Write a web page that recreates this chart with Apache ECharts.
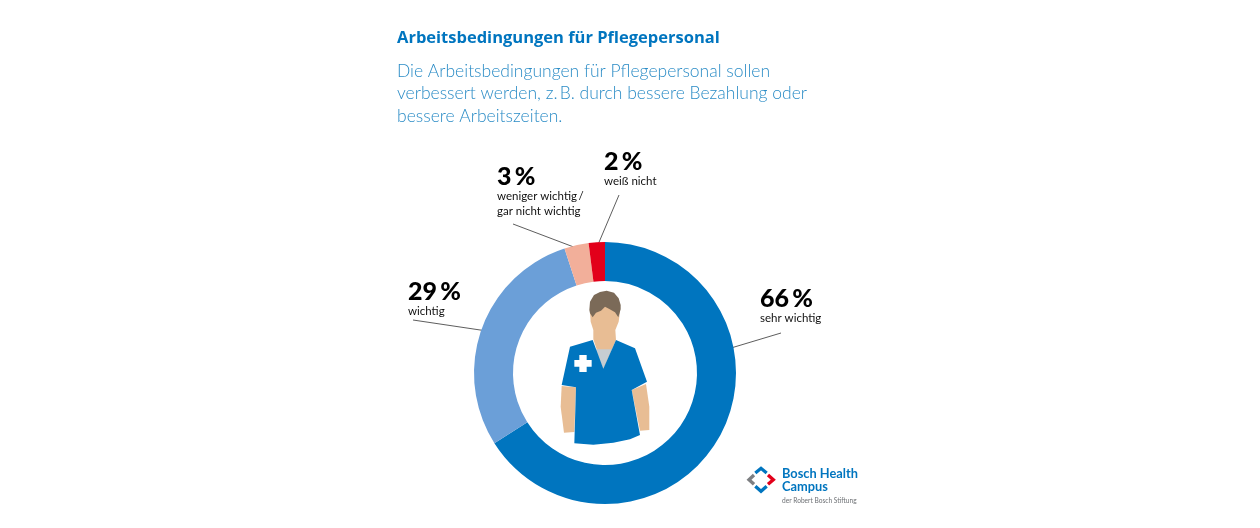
<!DOCTYPE html>
<html lang="de">
<head>
<meta charset="utf-8">
<title>Arbeitsbedingungen für Pflegepersonal</title>
<style>
  html, body { margin: 0; padding: 0; background: #fff; }
  #chart { width: 1260px; height: 528px; }
</style>
<script src="https://cdn.jsdelivr.net/npm/echarts@6/dist/echarts.min.js"></script>
</head>
<body>
<div id="chart"></div>
<script>
const categories = ['sehr wichtig', 'wichtig', 'weniger wichtig\u2009/\ngar nicht wichtig', 'weiß nicht']
const shares = [66, 29, 3, 2]
const sliceColors = ['#0075bf', '#6b9fd8', '#f2af9a', '#e2001a']
const titleText = 'Arbeitsbedingungen für Pflegepersonal'
const subText = 'Die Arbeitsbedingungen für Pflegepersonal sollen\nverbessert werden, z.\u2009B. durch bessere Bezahlung oder\nbessere Arbeitszeiten.'

// label anchor and leader line for each slice, in page pixels
const labelSpots = [
    { x: 760, y: 286, line: [[781, 333], [731, 348]] },
    { x: 408, y: 279, line: [[413, 320], [487, 331]] },
    { x: 497, y: 164, line: [[513, 224], [579, 249]] },
    { x: 604, y: 149, line: [[619, 195], [597, 247]] }
]

const fontName = 'Lato, "Noto Sans", sans-serif'
const blue = '#0075bf'
const skin = '#e8bd94'

const chart = echarts.init(document.getElementById('chart'), null, { renderer: 'canvas' })

const shape = (points, fill) => ({ type: 'polygon', shape: { points }, style: { fill } })
const chevron = (points, stroke) => ({ type: 'polyline', shape: { points }, style: { stroke, lineWidth: 10, fill: null } })

// 护士图标 drawn at 3x, then scaled down into the hole of the ring
const nurse = {
    type: 'group',
    x: 540, y: 280, scaleX: 1 / 3, scaleY: 1 / 3,
    children: [
        shape([[65, 318], [108, 322], [103, 456], [72, 458], [62, 380]], skin),
        shape([[275, 330], [318, 312], [328, 380], [328, 450], [300, 452]], skin),
        shape([[150, 95], [152, 125], [160, 150], [160, 178], [190, 268], [228, 180], [226, 150], [236, 125], [240, 95], [195, 60]], skin),
        shape([[165, 208], [215, 208], [190, 266]], '#c6cdd2'),
        shape([[158, 180], [190, 266], [228, 180], [285, 205], [321, 305], [275, 330], [300, 465], [270, 478], [220, 488], [160, 494], [103, 490], [108, 322], [65, 315], [90, 200]], blue),
        shape([[118, 225], [140, 225], [140, 240], [155, 240], [155, 260], [140, 260], [140, 276], [118, 276], [118, 260], [103, 260], [103, 240], [118, 240]], '#fff'),
        shape([[148, 90], [150, 65], [162, 45], [180, 36], [200, 32], [222, 38], [236, 55], [242, 75], [242, 88], [235, 112], [225, 97], [208, 87], [195, 80], [183, 92], [168, 98], [158, 112], [150, 100]], '#7b6a58')
    ]
}

const logo = {
    type: 'group',
    x: 730, y: 455, scaleX: 1 / 3, scaleY: 1 / 3,
    children: [
        chevron([[76, 54], [93, 40], [110, 54]], blue),
        chevron([[76, 94], [93, 109], [110, 94]], blue),
        chevron([[72, 60], [57, 74], [72, 88]], '#7d7f82'),
        chevron([[114, 60], [130, 74], [114, 88]], '#e2001a')
    ]
}

const logoText = (text, y, size, weight, fill) => ({
    type: 'text', x: 782, y,
    style: { text, fontFamily: fontName, fontSize: size, fontWeight: weight, fill }
})

chart.setOption({
    animation: false,
    backgroundColor: '#fff',
    title: [
        { text: titleText, left: 397, top: 30, padding: 0, textStyle: { color: blue, fontFamily: '"Open Sans", sans-serif', fontSize: 16.5, fontWeight: 700 } },
        { text: subText, left: 397, top: 60, padding: 0, textStyle: { color: '#2b8cc6', fontFamily: fontName, fontSize: 17.5, fontWeight: 300, lineHeight: 22.5 } }
    ],
    series: [
        {
            type: 'pie',
            center: [605, 373],
            radius: [92, 131],
            startAngle: 90,
            clockwise: true,
            silent: true,
            color: sliceColors,
            data: categories.map((name, i) => ({ name, value: shares[i] })),
            label: {
                show: true,
                position: 'outside',
                formatter: p => {
                    const nameLines = p.name.split('\n').map(s => '{n|' + s + '}').join('\n')
                    return '{v|' + p.value + '\u2009%}\n' + nameLines
                },
                rich: {
                    v: { fontFamily: fontName, fontSize: 25, fontWeight: 900, color: '#000', lineHeight: 25 },
                    n: { fontFamily: fontName, fontSize: 11.5, color: '#111', lineHeight: 15 }
                }
            },
            labelLine: { show: true, lineStyle: { color: '#333', width: 0.8 } },
            labelLayout: p => {
                const spot = labelSpots[p.dataIndex]
                return { x: spot.x, y: spot.y, align: 'left', verticalAlign: 'top', labelLinePoints: [spot.line[0], spot.line[0], spot.line[1]] }
            }
        }
    ],
    graphic: [
        nurse,
        logo,
        logoText('Bosch Health', 467, 12.8, 700, blue),
        logoText('Campus', 480, 12.8, 700, blue),
        logoText('der Robert Bosch Stiftung', 497, 6.6, 400, '#6d7074')
    ]
})
</script>
</body>
</html>
